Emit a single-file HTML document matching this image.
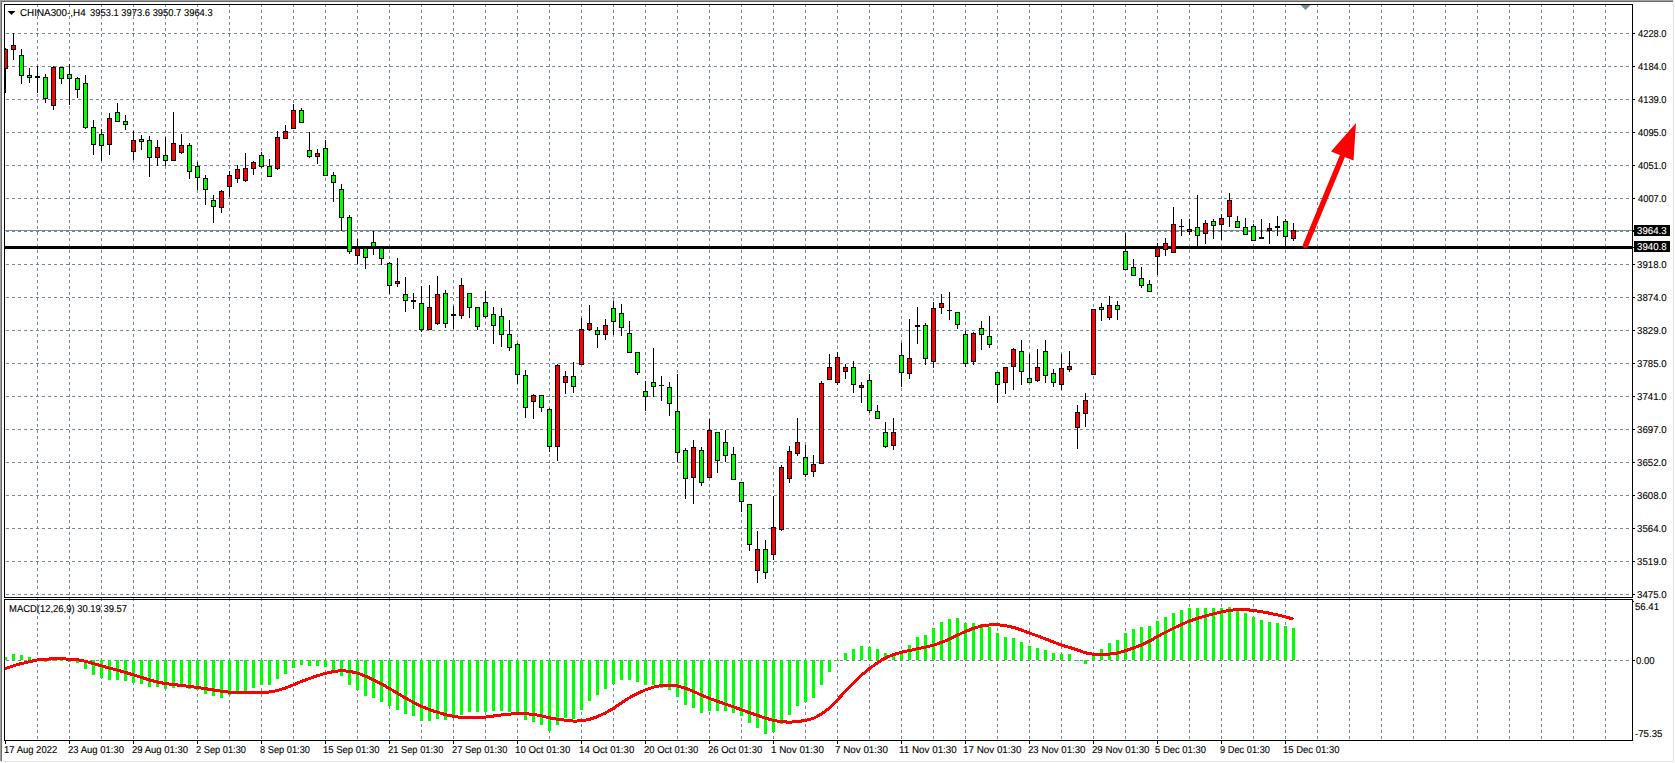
<!DOCTYPE html>
<html><head><meta charset="utf-8"><title>CHINA300-,H4</title>
<style>
html,body{margin:0;padding:0;background:#fff;width:1675px;height:763px;overflow:hidden}
svg{display:block}
text{font-family:"Liberation Sans",sans-serif}
</style></head><body>
<svg width="1675" height="763" viewBox="0 0 1675 763" shape-rendering="crispEdges">
<rect x="0" y="0" width="1675" height="763" fill="#ffffff"/>
<rect x="0" y="0" width="1674" height="1" fill="#a0a0a0"/>
<rect x="0" y="1" width="1673" height="1" fill="#696969"/>
<rect x="0" y="0" width="1" height="761" fill="#a0a0a0"/>
<rect x="1" y="1" width="1" height="760" fill="#696969"/>
<rect x="1673" y="0" width="1" height="762" fill="#e3e3e3"/>
<rect x="0" y="761" width="1674" height="1" fill="#e3e3e3"/>
<defs>
<clipPath id="cm"><rect x="5" y="5" width="1627" height="592"/></clipPath>
<clipPath id="ci"><rect x="5" y="600" width="1627" height="140"/></clipPath>
</defs>
<path d="M37.5 4V740 M69.5 4V740 M101.5 4V740 M133.5 4V740 M165.5 4V740 M197.5 4V740 M229.5 4V740 M261.5 4V740 M293.5 4V740 M325.5 4V740 M357.5 4V740 M389.5 4V740 M421.5 4V740 M453.5 4V740 M485.5 4V740 M517.5 4V740 M549.5 4V740 M581.5 4V740 M613.5 4V740 M645.5 4V740 M677.5 4V740 M709.5 4V740 M741.5 4V740 M773.5 4V740 M805.5 4V740 M837.5 4V740 M869.5 4V740 M901.5 4V740 M933.5 4V740 M965.5 4V740 M997.5 4V740 M1029.5 4V740 M1061.5 4V740 M1093.5 4V740 M1125.5 4V740 M1157.5 4V740 M1189.5 4V740 M1221.5 4V740 M1253.5 4V740 M1285.5 4V740 M1317.5 4V740 M1349.5 4V740 M1381.5 4V740 M1413.5 4V740 M1445.5 4V740 M1477.5 4V740 M1509.5 4V740 M1541.5 4V740 M1573.5 4V740 M1605.5 4V740" stroke="#778899" stroke-width="1" stroke-dasharray="3 3" fill="none"/>
<g clip-path="url(#cm)"><path d="M0 33.5H1632 M0 66.5H1632 M0 99.5H1632 M0 132.5H1632 M0 165.5H1632 M0 198.5H1632 M0 231.5H1632 M0 264.5H1632 M0 297.5H1632 M0 330.5H1632 M0 363.5H1632 M0 396.5H1632 M0 429.5H1632 M0 462.5H1632 M0 495.5H1632 M0 528.5H1632 M0 561.5H1632 M0 594.5H1632" stroke="#778899" stroke-width="1" stroke-dasharray="3 3" fill="none"/></g>
<g clip-path="url(#ci)"><path d="M0 660.5H1632" stroke="#778899" stroke-width="1" stroke-dasharray="3 3" fill="none"/></g>
<g clip-path="url(#cm)">
<rect x="5" y="230" width="1627" height="1" fill="#778899"/>
<rect x="5" y="246" width="1627" height="3" fill="#000"/>
<rect x="5" y="48" width="1" height="45" fill="#000"/>
<rect x="3" y="49" width="5" height="20" fill="#000"/>
<rect x="4" y="50" width="3" height="18" fill="#ff0000"/>
<rect x="13" y="33" width="1" height="27" fill="#000"/>
<rect x="11" y="45" width="5" height="5" fill="#000"/>
<rect x="12" y="46" width="3" height="3" fill="#ff0000"/>
<rect x="21" y="49" width="1" height="35" fill="#000"/>
<rect x="19" y="55" width="5" height="21" fill="#000"/>
<rect x="20" y="56" width="3" height="19" fill="#00ff00"/>
<rect x="29" y="68" width="1" height="15" fill="#000"/>
<rect x="27" y="75" width="5" height="3" fill="#000"/>
<rect x="28" y="76" width="3" height="1" fill="#00ff00"/>
<rect x="37" y="66" width="1" height="27" fill="#000"/>
<rect x="35" y="76" width="5" height="2" fill="#000"/>
<rect x="45" y="74" width="1" height="29" fill="#000"/>
<rect x="43" y="77" width="5" height="22" fill="#000"/>
<rect x="44" y="78" width="3" height="20" fill="#00ff00"/>
<rect x="53" y="66" width="1" height="44" fill="#000"/>
<rect x="51" y="67" width="5" height="39" fill="#000"/>
<rect x="52" y="68" width="3" height="37" fill="#ff0000"/>
<rect x="61" y="67" width="1" height="17" fill="#000"/>
<rect x="59" y="67" width="5" height="12" fill="#000"/>
<rect x="60" y="68" width="3" height="10" fill="#00ff00"/>
<rect x="69" y="64" width="1" height="41" fill="#000"/>
<rect x="67" y="74" width="5" height="5" fill="#000"/>
<rect x="68" y="75" width="3" height="3" fill="#00ff00"/>
<rect x="77" y="77" width="1" height="21" fill="#000"/>
<rect x="75" y="78" width="5" height="12" fill="#000"/>
<rect x="76" y="79" width="3" height="10" fill="#00ff00"/>
<rect x="85" y="75" width="1" height="54" fill="#000"/>
<rect x="83" y="83" width="5" height="45" fill="#000"/>
<rect x="84" y="84" width="3" height="43" fill="#00ff00"/>
<rect x="93" y="120" width="1" height="35" fill="#000"/>
<rect x="91" y="127" width="5" height="18" fill="#000"/>
<rect x="92" y="128" width="3" height="16" fill="#00ff00"/>
<rect x="101" y="129" width="1" height="32" fill="#000"/>
<rect x="99" y="134" width="5" height="12" fill="#000"/>
<rect x="100" y="135" width="3" height="10" fill="#00ff00"/>
<rect x="109" y="113" width="1" height="42" fill="#000"/>
<rect x="107" y="118" width="5" height="27" fill="#000"/>
<rect x="108" y="119" width="3" height="25" fill="#ff0000"/>
<rect x="117" y="103" width="1" height="19" fill="#000"/>
<rect x="115" y="112" width="5" height="10" fill="#000"/>
<rect x="116" y="113" width="3" height="8" fill="#00ff00"/>
<rect x="125" y="115" width="1" height="15" fill="#000"/>
<rect x="123" y="121" width="5" height="4" fill="#000"/>
<rect x="124" y="122" width="3" height="2" fill="#00ff00"/>
<rect x="133" y="131" width="1" height="29" fill="#000"/>
<rect x="131" y="140" width="5" height="12" fill="#000"/>
<rect x="132" y="141" width="3" height="10" fill="#ff0000"/>
<rect x="141" y="135" width="1" height="15" fill="#000"/>
<rect x="139" y="139" width="5" height="3" fill="#000"/>
<rect x="140" y="140" width="3" height="1" fill="#00ff00"/>
<rect x="149" y="136" width="1" height="41" fill="#000"/>
<rect x="147" y="140" width="5" height="18" fill="#000"/>
<rect x="148" y="141" width="3" height="16" fill="#00ff00"/>
<rect x="157" y="140" width="1" height="26" fill="#000"/>
<rect x="155" y="147" width="5" height="11" fill="#000"/>
<rect x="156" y="148" width="3" height="9" fill="#ff0000"/>
<rect x="165" y="137" width="1" height="29" fill="#000"/>
<rect x="163" y="155" width="5" height="6" fill="#000"/>
<rect x="164" y="156" width="3" height="4" fill="#00ff00"/>
<rect x="173" y="112" width="1" height="49" fill="#000"/>
<rect x="171" y="143" width="5" height="18" fill="#000"/>
<rect x="172" y="144" width="3" height="16" fill="#ff0000"/>
<rect x="181" y="134" width="1" height="20" fill="#000"/>
<rect x="179" y="145" width="5" height="8" fill="#000"/>
<rect x="180" y="146" width="3" height="6" fill="#ff0000"/>
<rect x="189" y="143" width="1" height="36" fill="#000"/>
<rect x="187" y="145" width="5" height="27" fill="#000"/>
<rect x="188" y="146" width="3" height="25" fill="#00ff00"/>
<rect x="197" y="162" width="1" height="28" fill="#000"/>
<rect x="195" y="166" width="5" height="12" fill="#000"/>
<rect x="196" y="167" width="3" height="10" fill="#00ff00"/>
<rect x="205" y="175" width="1" height="30" fill="#000"/>
<rect x="203" y="178" width="5" height="12" fill="#000"/>
<rect x="204" y="179" width="3" height="10" fill="#00ff00"/>
<rect x="213" y="195" width="1" height="28" fill="#000"/>
<rect x="211" y="200" width="5" height="7" fill="#000"/>
<rect x="212" y="201" width="3" height="5" fill="#00ff00"/>
<rect x="221" y="190" width="1" height="23" fill="#000"/>
<rect x="219" y="191" width="5" height="17" fill="#000"/>
<rect x="220" y="192" width="3" height="15" fill="#ff0000"/>
<rect x="229" y="171" width="1" height="26" fill="#000"/>
<rect x="227" y="175" width="5" height="12" fill="#000"/>
<rect x="228" y="176" width="3" height="10" fill="#ff0000"/>
<rect x="237" y="165" width="1" height="18" fill="#000"/>
<rect x="235" y="169" width="5" height="10" fill="#000"/>
<rect x="236" y="170" width="3" height="8" fill="#ff0000"/>
<rect x="245" y="153" width="1" height="29" fill="#000"/>
<rect x="243" y="168" width="5" height="13" fill="#000"/>
<rect x="244" y="169" width="3" height="11" fill="#ff0000"/>
<rect x="253" y="161" width="1" height="14" fill="#000"/>
<rect x="251" y="162" width="5" height="7" fill="#000"/>
<rect x="252" y="163" width="3" height="5" fill="#ff0000"/>
<rect x="261" y="152" width="1" height="16" fill="#000"/>
<rect x="259" y="155" width="5" height="12" fill="#000"/>
<rect x="260" y="156" width="3" height="10" fill="#00ff00"/>
<rect x="269" y="159" width="1" height="18" fill="#000"/>
<rect x="267" y="166" width="5" height="11" fill="#000"/>
<rect x="268" y="167" width="3" height="9" fill="#00ff00"/>
<rect x="277" y="131" width="1" height="39" fill="#000"/>
<rect x="275" y="137" width="5" height="32" fill="#000"/>
<rect x="276" y="138" width="3" height="30" fill="#ff0000"/>
<rect x="285" y="125" width="1" height="14" fill="#000"/>
<rect x="283" y="131" width="5" height="8" fill="#000"/>
<rect x="284" y="132" width="3" height="6" fill="#ff0000"/>
<rect x="293" y="104" width="1" height="25" fill="#000"/>
<rect x="291" y="110" width="5" height="19" fill="#000"/>
<rect x="292" y="111" width="3" height="17" fill="#ff0000"/>
<rect x="301" y="108" width="1" height="15" fill="#000"/>
<rect x="299" y="110" width="5" height="13" fill="#000"/>
<rect x="300" y="111" width="3" height="11" fill="#00ff00"/>
<rect x="309" y="132" width="1" height="26" fill="#000"/>
<rect x="307" y="150" width="5" height="7" fill="#000"/>
<rect x="308" y="151" width="3" height="5" fill="#00ff00"/>
<rect x="317" y="149" width="1" height="15" fill="#000"/>
<rect x="315" y="153" width="5" height="4" fill="#000"/>
<rect x="316" y="154" width="3" height="2" fill="#ff0000"/>
<rect x="325" y="140" width="1" height="36" fill="#000"/>
<rect x="323" y="148" width="5" height="28" fill="#000"/>
<rect x="324" y="149" width="3" height="26" fill="#00ff00"/>
<rect x="333" y="172" width="1" height="30" fill="#000"/>
<rect x="331" y="175" width="5" height="8" fill="#000"/>
<rect x="332" y="176" width="3" height="6" fill="#00ff00"/>
<rect x="341" y="184" width="1" height="47" fill="#000"/>
<rect x="339" y="189" width="5" height="29" fill="#000"/>
<rect x="340" y="190" width="3" height="27" fill="#00ff00"/>
<rect x="349" y="215" width="1" height="39" fill="#000"/>
<rect x="347" y="217" width="5" height="35" fill="#000"/>
<rect x="348" y="218" width="3" height="33" fill="#00ff00"/>
<rect x="357" y="239" width="1" height="25" fill="#000"/>
<rect x="355" y="248" width="5" height="8" fill="#000"/>
<rect x="356" y="249" width="3" height="6" fill="#ff0000"/>
<rect x="365" y="246" width="1" height="23" fill="#000"/>
<rect x="363" y="248" width="5" height="10" fill="#000"/>
<rect x="364" y="249" width="3" height="8" fill="#00ff00"/>
<rect x="373" y="231" width="1" height="24" fill="#000"/>
<rect x="371" y="242" width="5" height="5" fill="#000"/>
<rect x="372" y="243" width="3" height="3" fill="#00ff00"/>
<rect x="381" y="247" width="1" height="18" fill="#000"/>
<rect x="379" y="248" width="5" height="11" fill="#000"/>
<rect x="380" y="249" width="3" height="9" fill="#00ff00"/>
<rect x="389" y="262" width="1" height="32" fill="#000"/>
<rect x="387" y="263" width="5" height="23" fill="#000"/>
<rect x="388" y="264" width="3" height="21" fill="#00ff00"/>
<rect x="397" y="258" width="1" height="29" fill="#000"/>
<rect x="395" y="281" width="5" height="3" fill="#000"/>
<rect x="396" y="282" width="3" height="1" fill="#ff0000"/>
<rect x="405" y="277" width="1" height="35" fill="#000"/>
<rect x="403" y="294" width="5" height="7" fill="#000"/>
<rect x="404" y="295" width="3" height="5" fill="#00ff00"/>
<rect x="413" y="293" width="1" height="16" fill="#000"/>
<rect x="411" y="300" width="5" height="2" fill="#000"/>
<rect x="421" y="286" width="1" height="46" fill="#000"/>
<rect x="419" y="303" width="5" height="27" fill="#000"/>
<rect x="420" y="304" width="3" height="25" fill="#00ff00"/>
<rect x="429" y="285" width="1" height="45" fill="#000"/>
<rect x="427" y="307" width="5" height="23" fill="#000"/>
<rect x="428" y="308" width="3" height="21" fill="#ff0000"/>
<rect x="437" y="276" width="1" height="49" fill="#000"/>
<rect x="435" y="294" width="5" height="30" fill="#000"/>
<rect x="436" y="295" width="3" height="28" fill="#ff0000"/>
<rect x="445" y="290" width="1" height="38" fill="#000"/>
<rect x="443" y="293" width="5" height="31" fill="#000"/>
<rect x="444" y="294" width="3" height="29" fill="#00ff00"/>
<rect x="453" y="306" width="1" height="23" fill="#000"/>
<rect x="451" y="314" width="5" height="2" fill="#000"/>
<rect x="461" y="278" width="1" height="41" fill="#000"/>
<rect x="459" y="285" width="5" height="31" fill="#000"/>
<rect x="460" y="286" width="3" height="29" fill="#ff0000"/>
<rect x="469" y="293" width="1" height="25" fill="#000"/>
<rect x="467" y="293" width="5" height="15" fill="#000"/>
<rect x="468" y="294" width="3" height="13" fill="#00ff00"/>
<rect x="477" y="307" width="1" height="23" fill="#000"/>
<rect x="475" y="307" width="5" height="20" fill="#000"/>
<rect x="476" y="308" width="3" height="18" fill="#00ff00"/>
<rect x="485" y="291" width="1" height="27" fill="#000"/>
<rect x="483" y="302" width="5" height="15" fill="#000"/>
<rect x="484" y="303" width="3" height="13" fill="#00ff00"/>
<rect x="493" y="307" width="1" height="37" fill="#000"/>
<rect x="491" y="314" width="5" height="12" fill="#000"/>
<rect x="492" y="315" width="3" height="10" fill="#00ff00"/>
<rect x="501" y="308" width="1" height="39" fill="#000"/>
<rect x="499" y="316" width="5" height="19" fill="#000"/>
<rect x="500" y="317" width="3" height="17" fill="#00ff00"/>
<rect x="509" y="320" width="1" height="31" fill="#000"/>
<rect x="507" y="334" width="5" height="14" fill="#000"/>
<rect x="508" y="335" width="3" height="12" fill="#00ff00"/>
<rect x="517" y="343" width="1" height="41" fill="#000"/>
<rect x="515" y="344" width="5" height="31" fill="#000"/>
<rect x="516" y="345" width="3" height="29" fill="#00ff00"/>
<rect x="525" y="370" width="1" height="48" fill="#000"/>
<rect x="523" y="375" width="5" height="33" fill="#000"/>
<rect x="524" y="376" width="3" height="31" fill="#00ff00"/>
<rect x="533" y="394" width="1" height="25" fill="#000"/>
<rect x="531" y="395" width="5" height="7" fill="#000"/>
<rect x="532" y="396" width="3" height="5" fill="#ff0000"/>
<rect x="541" y="395" width="1" height="17" fill="#000"/>
<rect x="539" y="395" width="5" height="13" fill="#000"/>
<rect x="540" y="396" width="3" height="11" fill="#00ff00"/>
<rect x="549" y="408" width="1" height="44" fill="#000"/>
<rect x="547" y="409" width="5" height="38" fill="#000"/>
<rect x="548" y="410" width="3" height="36" fill="#00ff00"/>
<rect x="557" y="364" width="1" height="97" fill="#000"/>
<rect x="555" y="365" width="5" height="82" fill="#000"/>
<rect x="556" y="366" width="3" height="80" fill="#ff0000"/>
<rect x="565" y="371" width="1" height="23" fill="#000"/>
<rect x="563" y="376" width="5" height="7" fill="#000"/>
<rect x="564" y="377" width="3" height="5" fill="#ff0000"/>
<rect x="573" y="362" width="1" height="31" fill="#000"/>
<rect x="571" y="376" width="5" height="11" fill="#000"/>
<rect x="572" y="377" width="3" height="9" fill="#00ff00"/>
<rect x="581" y="318" width="1" height="47" fill="#000"/>
<rect x="579" y="329" width="5" height="36" fill="#000"/>
<rect x="580" y="330" width="3" height="34" fill="#ff0000"/>
<rect x="589" y="305" width="1" height="26" fill="#000"/>
<rect x="587" y="323" width="5" height="7" fill="#000"/>
<rect x="588" y="324" width="3" height="5" fill="#ff0000"/>
<rect x="597" y="327" width="1" height="21" fill="#000"/>
<rect x="595" y="330" width="5" height="5" fill="#000"/>
<rect x="596" y="331" width="3" height="3" fill="#00ff00"/>
<rect x="605" y="319" width="1" height="21" fill="#000"/>
<rect x="603" y="325" width="5" height="10" fill="#000"/>
<rect x="604" y="326" width="3" height="8" fill="#ff0000"/>
<rect x="613" y="301" width="1" height="34" fill="#000"/>
<rect x="611" y="308" width="5" height="14" fill="#000"/>
<rect x="612" y="309" width="3" height="12" fill="#00ff00"/>
<rect x="621" y="304" width="1" height="32" fill="#000"/>
<rect x="619" y="313" width="5" height="15" fill="#000"/>
<rect x="620" y="314" width="3" height="13" fill="#00ff00"/>
<rect x="629" y="321" width="1" height="32" fill="#000"/>
<rect x="627" y="333" width="5" height="20" fill="#000"/>
<rect x="628" y="334" width="3" height="18" fill="#00ff00"/>
<rect x="637" y="352" width="1" height="23" fill="#000"/>
<rect x="635" y="352" width="5" height="21" fill="#000"/>
<rect x="636" y="353" width="3" height="19" fill="#00ff00"/>
<rect x="645" y="381" width="1" height="30" fill="#000"/>
<rect x="643" y="391" width="5" height="6" fill="#000"/>
<rect x="644" y="392" width="3" height="4" fill="#00ff00"/>
<rect x="653" y="348" width="1" height="49" fill="#000"/>
<rect x="651" y="382" width="5" height="5" fill="#000"/>
<rect x="652" y="383" width="3" height="3" fill="#00ff00"/>
<rect x="661" y="376" width="1" height="25" fill="#000"/>
<rect x="659" y="385" width="5" height="1" fill="#000"/>
<rect x="669" y="382" width="1" height="34" fill="#000"/>
<rect x="667" y="387" width="5" height="17" fill="#000"/>
<rect x="668" y="388" width="3" height="15" fill="#00ff00"/>
<rect x="677" y="374" width="1" height="88" fill="#000"/>
<rect x="675" y="411" width="5" height="42" fill="#000"/>
<rect x="676" y="412" width="3" height="40" fill="#00ff00"/>
<rect x="685" y="448" width="1" height="51" fill="#000"/>
<rect x="683" y="450" width="5" height="29" fill="#000"/>
<rect x="684" y="451" width="3" height="27" fill="#00ff00"/>
<rect x="693" y="440" width="1" height="64" fill="#000"/>
<rect x="691" y="447" width="5" height="31" fill="#000"/>
<rect x="692" y="448" width="3" height="29" fill="#ff0000"/>
<rect x="701" y="447" width="1" height="39" fill="#000"/>
<rect x="699" y="450" width="5" height="33" fill="#000"/>
<rect x="700" y="451" width="3" height="31" fill="#00ff00"/>
<rect x="709" y="419" width="1" height="59" fill="#000"/>
<rect x="707" y="430" width="5" height="48" fill="#000"/>
<rect x="708" y="431" width="3" height="46" fill="#ff0000"/>
<rect x="717" y="432" width="1" height="41" fill="#000"/>
<rect x="715" y="432" width="5" height="29" fill="#000"/>
<rect x="716" y="433" width="3" height="27" fill="#00ff00"/>
<rect x="725" y="430" width="1" height="32" fill="#000"/>
<rect x="723" y="442" width="5" height="14" fill="#000"/>
<rect x="724" y="443" width="3" height="12" fill="#00ff00"/>
<rect x="733" y="447" width="1" height="33" fill="#000"/>
<rect x="731" y="454" width="5" height="26" fill="#000"/>
<rect x="732" y="455" width="3" height="24" fill="#00ff00"/>
<rect x="741" y="482" width="1" height="30" fill="#000"/>
<rect x="739" y="482" width="5" height="20" fill="#000"/>
<rect x="740" y="483" width="3" height="18" fill="#00ff00"/>
<rect x="749" y="504" width="1" height="47" fill="#000"/>
<rect x="747" y="504" width="5" height="41" fill="#000"/>
<rect x="748" y="505" width="3" height="39" fill="#00ff00"/>
<rect x="757" y="531" width="1" height="52" fill="#000"/>
<rect x="755" y="549" width="5" height="22" fill="#000"/>
<rect x="756" y="550" width="3" height="20" fill="#ff0000"/>
<rect x="765" y="540" width="1" height="39" fill="#000"/>
<rect x="763" y="549" width="5" height="24" fill="#000"/>
<rect x="764" y="550" width="3" height="22" fill="#00ff00"/>
<rect x="773" y="496" width="1" height="64" fill="#000"/>
<rect x="771" y="527" width="5" height="28" fill="#000"/>
<rect x="772" y="528" width="3" height="26" fill="#ff0000"/>
<rect x="781" y="465" width="1" height="66" fill="#000"/>
<rect x="779" y="467" width="5" height="63" fill="#000"/>
<rect x="780" y="468" width="3" height="61" fill="#ff0000"/>
<rect x="789" y="446" width="1" height="37" fill="#000"/>
<rect x="787" y="451" width="5" height="28" fill="#000"/>
<rect x="788" y="452" width="3" height="26" fill="#ff0000"/>
<rect x="797" y="418" width="1" height="38" fill="#000"/>
<rect x="795" y="442" width="5" height="12" fill="#000"/>
<rect x="796" y="443" width="3" height="10" fill="#ff0000"/>
<rect x="805" y="445" width="1" height="32" fill="#000"/>
<rect x="803" y="457" width="5" height="18" fill="#000"/>
<rect x="804" y="458" width="3" height="16" fill="#00ff00"/>
<rect x="813" y="455" width="1" height="22" fill="#000"/>
<rect x="811" y="464" width="5" height="8" fill="#000"/>
<rect x="812" y="465" width="3" height="6" fill="#ff0000"/>
<rect x="821" y="381" width="1" height="83" fill="#000"/>
<rect x="819" y="383" width="5" height="81" fill="#000"/>
<rect x="820" y="384" width="3" height="79" fill="#ff0000"/>
<rect x="829" y="354" width="1" height="26" fill="#000"/>
<rect x="827" y="367" width="5" height="13" fill="#000"/>
<rect x="828" y="368" width="3" height="11" fill="#ff0000"/>
<rect x="837" y="352" width="1" height="33" fill="#000"/>
<rect x="835" y="357" width="5" height="26" fill="#000"/>
<rect x="836" y="358" width="3" height="24" fill="#ff0000"/>
<rect x="845" y="364" width="1" height="15" fill="#000"/>
<rect x="843" y="367" width="5" height="5" fill="#000"/>
<rect x="844" y="368" width="3" height="3" fill="#ff0000"/>
<rect x="853" y="361" width="1" height="32" fill="#000"/>
<rect x="851" y="367" width="5" height="18" fill="#000"/>
<rect x="852" y="368" width="3" height="16" fill="#00ff00"/>
<rect x="861" y="382" width="1" height="21" fill="#000"/>
<rect x="859" y="385" width="5" height="3" fill="#000"/>
<rect x="860" y="386" width="3" height="1" fill="#ff0000"/>
<rect x="869" y="374" width="1" height="39" fill="#000"/>
<rect x="867" y="380" width="5" height="31" fill="#000"/>
<rect x="868" y="381" width="3" height="29" fill="#00ff00"/>
<rect x="877" y="405" width="1" height="14" fill="#000"/>
<rect x="875" y="411" width="5" height="8" fill="#000"/>
<rect x="876" y="412" width="3" height="6" fill="#00ff00"/>
<rect x="885" y="422" width="1" height="26" fill="#000"/>
<rect x="883" y="432" width="5" height="15" fill="#000"/>
<rect x="884" y="433" width="3" height="13" fill="#00ff00"/>
<rect x="893" y="418" width="1" height="32" fill="#000"/>
<rect x="891" y="432" width="5" height="14" fill="#000"/>
<rect x="892" y="433" width="3" height="12" fill="#ff0000"/>
<rect x="901" y="343" width="1" height="44" fill="#000"/>
<rect x="899" y="355" width="5" height="18" fill="#000"/>
<rect x="900" y="356" width="3" height="16" fill="#00ff00"/>
<rect x="909" y="319" width="1" height="60" fill="#000"/>
<rect x="907" y="358" width="5" height="16" fill="#000"/>
<rect x="908" y="359" width="3" height="14" fill="#ff0000"/>
<rect x="917" y="307" width="1" height="37" fill="#000"/>
<rect x="915" y="325" width="5" height="2" fill="#000"/>
<rect x="925" y="323" width="1" height="42" fill="#000"/>
<rect x="923" y="325" width="5" height="34" fill="#000"/>
<rect x="924" y="326" width="3" height="32" fill="#00ff00"/>
<rect x="933" y="302" width="1" height="66" fill="#000"/>
<rect x="931" y="308" width="5" height="54" fill="#000"/>
<rect x="932" y="309" width="3" height="52" fill="#ff0000"/>
<rect x="941" y="294" width="1" height="20" fill="#000"/>
<rect x="939" y="303" width="5" height="5" fill="#000"/>
<rect x="940" y="304" width="3" height="3" fill="#ff0000"/>
<rect x="949" y="292" width="1" height="28" fill="#000"/>
<rect x="947" y="310" width="5" height="1" fill="#000"/>
<rect x="957" y="312" width="1" height="17" fill="#000"/>
<rect x="955" y="312" width="5" height="13" fill="#000"/>
<rect x="956" y="313" width="3" height="11" fill="#00ff00"/>
<rect x="965" y="331" width="1" height="36" fill="#000"/>
<rect x="963" y="334" width="5" height="30" fill="#000"/>
<rect x="964" y="335" width="3" height="28" fill="#00ff00"/>
<rect x="973" y="332" width="1" height="33" fill="#000"/>
<rect x="971" y="333" width="5" height="29" fill="#000"/>
<rect x="972" y="334" width="3" height="27" fill="#ff0000"/>
<rect x="981" y="321" width="1" height="29" fill="#000"/>
<rect x="979" y="328" width="5" height="7" fill="#000"/>
<rect x="980" y="329" width="3" height="5" fill="#00ff00"/>
<rect x="989" y="316" width="1" height="32" fill="#000"/>
<rect x="987" y="336" width="5" height="9" fill="#000"/>
<rect x="988" y="337" width="3" height="7" fill="#00ff00"/>
<rect x="997" y="372" width="1" height="31" fill="#000"/>
<rect x="995" y="372" width="5" height="13" fill="#000"/>
<rect x="996" y="373" width="3" height="11" fill="#00ff00"/>
<rect x="1005" y="367" width="1" height="27" fill="#000"/>
<rect x="1003" y="367" width="5" height="16" fill="#000"/>
<rect x="1004" y="368" width="3" height="14" fill="#ff0000"/>
<rect x="1013" y="348" width="1" height="42" fill="#000"/>
<rect x="1011" y="349" width="5" height="18" fill="#000"/>
<rect x="1012" y="350" width="3" height="16" fill="#ff0000"/>
<rect x="1021" y="340" width="1" height="45" fill="#000"/>
<rect x="1019" y="351" width="5" height="21" fill="#000"/>
<rect x="1020" y="352" width="3" height="19" fill="#00ff00"/>
<rect x="1029" y="354" width="1" height="29" fill="#000"/>
<rect x="1027" y="378" width="5" height="5" fill="#000"/>
<rect x="1028" y="379" width="3" height="3" fill="#00ff00"/>
<rect x="1037" y="349" width="1" height="33" fill="#000"/>
<rect x="1035" y="367" width="5" height="14" fill="#000"/>
<rect x="1036" y="368" width="3" height="12" fill="#ff0000"/>
<rect x="1045" y="340" width="1" height="43" fill="#000"/>
<rect x="1043" y="351" width="5" height="25" fill="#000"/>
<rect x="1044" y="352" width="3" height="23" fill="#00ff00"/>
<rect x="1053" y="369" width="1" height="18" fill="#000"/>
<rect x="1051" y="373" width="5" height="10" fill="#000"/>
<rect x="1052" y="374" width="3" height="8" fill="#00ff00"/>
<rect x="1061" y="354" width="1" height="36" fill="#000"/>
<rect x="1059" y="368" width="5" height="17" fill="#000"/>
<rect x="1060" y="369" width="3" height="15" fill="#ff0000"/>
<rect x="1069" y="351" width="1" height="21" fill="#000"/>
<rect x="1067" y="366" width="5" height="4" fill="#000"/>
<rect x="1068" y="367" width="3" height="2" fill="#ff0000"/>
<rect x="1077" y="405" width="1" height="44" fill="#000"/>
<rect x="1075" y="412" width="5" height="16" fill="#000"/>
<rect x="1076" y="413" width="3" height="14" fill="#ff0000"/>
<rect x="1085" y="393" width="1" height="34" fill="#000"/>
<rect x="1083" y="400" width="5" height="14" fill="#000"/>
<rect x="1084" y="401" width="3" height="12" fill="#ff0000"/>
<rect x="1093" y="309" width="1" height="66" fill="#000"/>
<rect x="1091" y="309" width="5" height="66" fill="#000"/>
<rect x="1092" y="310" width="3" height="64" fill="#ff0000"/>
<rect x="1101" y="303" width="1" height="18" fill="#000"/>
<rect x="1099" y="307" width="5" height="3" fill="#000"/>
<rect x="1100" y="308" width="3" height="1" fill="#00ff00"/>
<rect x="1109" y="296" width="1" height="24" fill="#000"/>
<rect x="1107" y="305" width="5" height="13" fill="#000"/>
<rect x="1108" y="306" width="3" height="11" fill="#ff0000"/>
<rect x="1117" y="301" width="1" height="19" fill="#000"/>
<rect x="1115" y="305" width="5" height="5" fill="#000"/>
<rect x="1116" y="306" width="3" height="3" fill="#00ff00"/>
<rect x="1125" y="233" width="1" height="37" fill="#000"/>
<rect x="1123" y="251" width="5" height="19" fill="#000"/>
<rect x="1124" y="252" width="3" height="17" fill="#00ff00"/>
<rect x="1133" y="259" width="1" height="17" fill="#000"/>
<rect x="1131" y="267" width="5" height="9" fill="#000"/>
<rect x="1132" y="268" width="3" height="7" fill="#00ff00"/>
<rect x="1141" y="267" width="1" height="21" fill="#000"/>
<rect x="1139" y="278" width="5" height="8" fill="#000"/>
<rect x="1140" y="279" width="3" height="6" fill="#00ff00"/>
<rect x="1149" y="280" width="1" height="12" fill="#000"/>
<rect x="1147" y="284" width="5" height="8" fill="#000"/>
<rect x="1148" y="285" width="3" height="6" fill="#00ff00"/>
<rect x="1157" y="243" width="1" height="32" fill="#000"/>
<rect x="1155" y="248" width="5" height="9" fill="#000"/>
<rect x="1156" y="249" width="3" height="7" fill="#ff0000"/>
<rect x="1165" y="238" width="1" height="18" fill="#000"/>
<rect x="1163" y="243" width="5" height="7" fill="#000"/>
<rect x="1164" y="244" width="3" height="5" fill="#ff0000"/>
<rect x="1173" y="207" width="1" height="46" fill="#000"/>
<rect x="1171" y="224" width="5" height="29" fill="#000"/>
<rect x="1172" y="225" width="3" height="27" fill="#ff0000"/>
<rect x="1181" y="219" width="1" height="17" fill="#000"/>
<rect x="1179" y="226" width="5" height="1" fill="#000"/>
<rect x="1189" y="219" width="1" height="16" fill="#000"/>
<rect x="1187" y="229" width="5" height="3" fill="#000"/>
<rect x="1188" y="230" width="3" height="1" fill="#ff0000"/>
<rect x="1197" y="195" width="1" height="51" fill="#000"/>
<rect x="1195" y="227" width="5" height="9" fill="#000"/>
<rect x="1196" y="228" width="3" height="7" fill="#00ff00"/>
<rect x="1205" y="220" width="1" height="24" fill="#000"/>
<rect x="1203" y="223" width="5" height="11" fill="#000"/>
<rect x="1204" y="224" width="3" height="9" fill="#ff0000"/>
<rect x="1213" y="219" width="1" height="20" fill="#000"/>
<rect x="1211" y="221" width="5" height="5" fill="#000"/>
<rect x="1212" y="222" width="3" height="3" fill="#00ff00"/>
<rect x="1221" y="214" width="1" height="26" fill="#000"/>
<rect x="1219" y="218" width="5" height="7" fill="#000"/>
<rect x="1220" y="219" width="3" height="5" fill="#ff0000"/>
<rect x="1229" y="193" width="1" height="34" fill="#000"/>
<rect x="1227" y="200" width="5" height="17" fill="#000"/>
<rect x="1228" y="201" width="3" height="15" fill="#ff0000"/>
<rect x="1237" y="216" width="1" height="12" fill="#000"/>
<rect x="1235" y="221" width="5" height="7" fill="#000"/>
<rect x="1236" y="222" width="3" height="5" fill="#00ff00"/>
<rect x="1245" y="218" width="1" height="17" fill="#000"/>
<rect x="1243" y="227" width="5" height="8" fill="#000"/>
<rect x="1244" y="228" width="3" height="6" fill="#00ff00"/>
<rect x="1253" y="224" width="1" height="17" fill="#000"/>
<rect x="1251" y="226" width="5" height="15" fill="#000"/>
<rect x="1252" y="227" width="3" height="13" fill="#00ff00"/>
<rect x="1261" y="219" width="1" height="20" fill="#000"/>
<rect x="1259" y="237" width="5" height="2" fill="#000"/>
<rect x="1269" y="223" width="1" height="21" fill="#000"/>
<rect x="1267" y="228" width="5" height="3" fill="#000"/>
<rect x="1268" y="229" width="3" height="1" fill="#ff0000"/>
<rect x="1277" y="216" width="1" height="20" fill="#000"/>
<rect x="1275" y="226" width="5" height="2" fill="#000"/>
<rect x="1285" y="219" width="1" height="27" fill="#000"/>
<rect x="1283" y="221" width="5" height="16" fill="#000"/>
<rect x="1284" y="222" width="3" height="14" fill="#00ff00"/>
<rect x="1293" y="223" width="1" height="18" fill="#000"/>
<rect x="1291" y="230" width="5" height="9" fill="#000"/>
<rect x="1292" y="231" width="3" height="7" fill="#ff0000"/>
<g shape-rendering="auto">
<line x1="1305.5" y1="245.5" x2="1342" y2="157" stroke="#ff0000" stroke-width="5.5" stroke-linecap="round"/>
<polygon points="1356,123 1331,151.5 1353.5,160.5" fill="#ff0000"/>
</g>
<polygon points="1300.5,5 1310.5,5 1305.5,10" fill="#778899" shape-rendering="auto"/>
</g>
<g clip-path="url(#ci)">
<rect x="4" y="657" width="3" height="3" fill="#00ff00"/>
<rect x="12" y="654" width="3" height="6" fill="#00ff00"/>
<rect x="20" y="655" width="3" height="5" fill="#00ff00"/>
<rect x="28" y="657" width="3" height="3" fill="#00ff00"/>
<rect x="36" y="660" width="3" height="1" fill="#00ff00"/>
<rect x="44" y="660" width="3" height="2" fill="#00ff00"/>
<rect x="52" y="660" width="3" height="1" fill="#00ff00"/>
<rect x="60" y="660" width="3" height="1" fill="#00ff00"/>
<rect x="68" y="660" width="3" height="2" fill="#00ff00"/>
<rect x="76" y="660" width="3" height="3" fill="#00ff00"/>
<rect x="84" y="660" width="3" height="9" fill="#00ff00"/>
<rect x="92" y="660" width="3" height="15" fill="#00ff00"/>
<rect x="100" y="660" width="3" height="18" fill="#00ff00"/>
<rect x="108" y="660" width="3" height="20" fill="#00ff00"/>
<rect x="116" y="660" width="3" height="20" fill="#00ff00"/>
<rect x="124" y="660" width="3" height="21" fill="#00ff00"/>
<rect x="132" y="660" width="3" height="23" fill="#00ff00"/>
<rect x="140" y="660" width="3" height="24" fill="#00ff00"/>
<rect x="148" y="660" width="3" height="27" fill="#00ff00"/>
<rect x="156" y="660" width="3" height="27" fill="#00ff00"/>
<rect x="164" y="660" width="3" height="29" fill="#00ff00"/>
<rect x="172" y="660" width="3" height="28" fill="#00ff00"/>
<rect x="180" y="660" width="3" height="27" fill="#00ff00"/>
<rect x="188" y="660" width="3" height="29" fill="#00ff00"/>
<rect x="196" y="660" width="3" height="30" fill="#00ff00"/>
<rect x="204" y="660" width="3" height="34" fill="#00ff00"/>
<rect x="212" y="660" width="3" height="36" fill="#00ff00"/>
<rect x="220" y="660" width="3" height="38" fill="#00ff00"/>
<rect x="228" y="660" width="3" height="35" fill="#00ff00"/>
<rect x="236" y="660" width="3" height="31" fill="#00ff00"/>
<rect x="244" y="660" width="3" height="31" fill="#00ff00"/>
<rect x="252" y="660" width="3" height="28" fill="#00ff00"/>
<rect x="260" y="660" width="3" height="25" fill="#00ff00"/>
<rect x="268" y="660" width="3" height="25" fill="#00ff00"/>
<rect x="276" y="660" width="3" height="19" fill="#00ff00"/>
<rect x="284" y="660" width="3" height="14" fill="#00ff00"/>
<rect x="292" y="660" width="3" height="8" fill="#00ff00"/>
<rect x="300" y="660" width="3" height="5" fill="#00ff00"/>
<rect x="308" y="660" width="3" height="6" fill="#00ff00"/>
<rect x="316" y="660" width="3" height="6" fill="#00ff00"/>
<rect x="324" y="660" width="3" height="7" fill="#00ff00"/>
<rect x="332" y="660" width="3" height="10" fill="#00ff00"/>
<rect x="340" y="660" width="3" height="16" fill="#00ff00"/>
<rect x="348" y="660" width="3" height="25" fill="#00ff00"/>
<rect x="356" y="660" width="3" height="30" fill="#00ff00"/>
<rect x="364" y="660" width="3" height="36" fill="#00ff00"/>
<rect x="372" y="660" width="3" height="38" fill="#00ff00"/>
<rect x="380" y="660" width="3" height="42" fill="#00ff00"/>
<rect x="388" y="660" width="3" height="46" fill="#00ff00"/>
<rect x="396" y="660" width="3" height="50" fill="#00ff00"/>
<rect x="404" y="660" width="3" height="54" fill="#00ff00"/>
<rect x="412" y="660" width="3" height="56" fill="#00ff00"/>
<rect x="420" y="660" width="3" height="61" fill="#00ff00"/>
<rect x="428" y="660" width="3" height="61" fill="#00ff00"/>
<rect x="436" y="660" width="3" height="59" fill="#00ff00"/>
<rect x="444" y="660" width="3" height="60" fill="#00ff00"/>
<rect x="452" y="660" width="3" height="58" fill="#00ff00"/>
<rect x="460" y="660" width="3" height="55" fill="#00ff00"/>
<rect x="468" y="660" width="3" height="52" fill="#00ff00"/>
<rect x="476" y="660" width="3" height="52" fill="#00ff00"/>
<rect x="484" y="660" width="3" height="52" fill="#00ff00"/>
<rect x="492" y="660" width="3" height="51" fill="#00ff00"/>
<rect x="500" y="660" width="3" height="51" fill="#00ff00"/>
<rect x="508" y="660" width="3" height="52" fill="#00ff00"/>
<rect x="516" y="660" width="3" height="55" fill="#00ff00"/>
<rect x="524" y="660" width="3" height="60" fill="#00ff00"/>
<rect x="532" y="660" width="3" height="62" fill="#00ff00"/>
<rect x="540" y="660" width="3" height="65" fill="#00ff00"/>
<rect x="548" y="660" width="3" height="71" fill="#00ff00"/>
<rect x="556" y="660" width="3" height="65" fill="#00ff00"/>
<rect x="564" y="660" width="3" height="58" fill="#00ff00"/>
<rect x="572" y="660" width="3" height="59" fill="#00ff00"/>
<rect x="580" y="660" width="3" height="50" fill="#00ff00"/>
<rect x="588" y="660" width="3" height="41" fill="#00ff00"/>
<rect x="596" y="660" width="3" height="35" fill="#00ff00"/>
<rect x="604" y="660" width="3" height="29" fill="#00ff00"/>
<rect x="612" y="660" width="3" height="24" fill="#00ff00"/>
<rect x="620" y="660" width="3" height="20" fill="#00ff00"/>
<rect x="628" y="660" width="3" height="20" fill="#00ff00"/>
<rect x="636" y="660" width="3" height="22" fill="#00ff00"/>
<rect x="644" y="660" width="3" height="25" fill="#00ff00"/>
<rect x="652" y="660" width="3" height="25" fill="#00ff00"/>
<rect x="660" y="660" width="3" height="28" fill="#00ff00"/>
<rect x="668" y="660" width="3" height="30" fill="#00ff00"/>
<rect x="676" y="660" width="3" height="37" fill="#00ff00"/>
<rect x="684" y="660" width="3" height="45" fill="#00ff00"/>
<rect x="692" y="660" width="3" height="48" fill="#00ff00"/>
<rect x="700" y="660" width="3" height="53" fill="#00ff00"/>
<rect x="708" y="660" width="3" height="51" fill="#00ff00"/>
<rect x="716" y="660" width="3" height="51" fill="#00ff00"/>
<rect x="724" y="660" width="3" height="51" fill="#00ff00"/>
<rect x="732" y="660" width="3" height="53" fill="#00ff00"/>
<rect x="740" y="660" width="3" height="56" fill="#00ff00"/>
<rect x="748" y="660" width="3" height="63" fill="#00ff00"/>
<rect x="756" y="660" width="3" height="68" fill="#00ff00"/>
<rect x="764" y="660" width="3" height="74" fill="#00ff00"/>
<rect x="772" y="660" width="3" height="72" fill="#00ff00"/>
<rect x="780" y="660" width="3" height="64" fill="#00ff00"/>
<rect x="788" y="660" width="3" height="55" fill="#00ff00"/>
<rect x="796" y="660" width="3" height="46" fill="#00ff00"/>
<rect x="804" y="660" width="3" height="42" fill="#00ff00"/>
<rect x="812" y="660" width="3" height="38" fill="#00ff00"/>
<rect x="820" y="660" width="3" height="25" fill="#00ff00"/>
<rect x="828" y="660" width="3" height="12" fill="#00ff00"/>
<rect x="836" y="660" width="3" height="1" fill="#00ff00"/>
<rect x="844" y="653" width="3" height="7" fill="#00ff00"/>
<rect x="852" y="649" width="3" height="11" fill="#00ff00"/>
<rect x="860" y="646" width="3" height="14" fill="#00ff00"/>
<rect x="868" y="647" width="3" height="13" fill="#00ff00"/>
<rect x="876" y="649" width="3" height="11" fill="#00ff00"/>
<rect x="884" y="653" width="3" height="7" fill="#00ff00"/>
<rect x="892" y="656" width="3" height="4" fill="#00ff00"/>
<rect x="900" y="651" width="3" height="9" fill="#00ff00"/>
<rect x="908" y="645" width="3" height="15" fill="#00ff00"/>
<rect x="916" y="637" width="3" height="23" fill="#00ff00"/>
<rect x="924" y="635" width="3" height="25" fill="#00ff00"/>
<rect x="932" y="628" width="3" height="32" fill="#00ff00"/>
<rect x="940" y="622" width="3" height="38" fill="#00ff00"/>
<rect x="948" y="619" width="3" height="41" fill="#00ff00"/>
<rect x="956" y="618" width="3" height="42" fill="#00ff00"/>
<rect x="964" y="623" width="3" height="37" fill="#00ff00"/>
<rect x="972" y="623" width="3" height="37" fill="#00ff00"/>
<rect x="980" y="624" width="3" height="36" fill="#00ff00"/>
<rect x="988" y="627" width="3" height="33" fill="#00ff00"/>
<rect x="996" y="633" width="3" height="27" fill="#00ff00"/>
<rect x="1004" y="637" width="3" height="23" fill="#00ff00"/>
<rect x="1012" y="638" width="3" height="22" fill="#00ff00"/>
<rect x="1020" y="642" width="3" height="18" fill="#00ff00"/>
<rect x="1028" y="646" width="3" height="14" fill="#00ff00"/>
<rect x="1036" y="648" width="3" height="12" fill="#00ff00"/>
<rect x="1044" y="650" width="3" height="10" fill="#00ff00"/>
<rect x="1052" y="653" width="3" height="7" fill="#00ff00"/>
<rect x="1060" y="654" width="3" height="6" fill="#00ff00"/>
<rect x="1068" y="654" width="3" height="6" fill="#00ff00"/>
<rect x="1076" y="660" width="3" height="1" fill="#00ff00"/>
<rect x="1084" y="660" width="3" height="4" fill="#00ff00"/>
<rect x="1092" y="655" width="3" height="5" fill="#00ff00"/>
<rect x="1100" y="649" width="3" height="11" fill="#00ff00"/>
<rect x="1108" y="643" width="3" height="17" fill="#00ff00"/>
<rect x="1116" y="640" width="3" height="20" fill="#00ff00"/>
<rect x="1124" y="633" width="3" height="27" fill="#00ff00"/>
<rect x="1132" y="629" width="3" height="31" fill="#00ff00"/>
<rect x="1140" y="627" width="3" height="33" fill="#00ff00"/>
<rect x="1148" y="626" width="3" height="34" fill="#00ff00"/>
<rect x="1156" y="621" width="3" height="39" fill="#00ff00"/>
<rect x="1164" y="617" width="3" height="43" fill="#00ff00"/>
<rect x="1172" y="613" width="3" height="47" fill="#00ff00"/>
<rect x="1180" y="610" width="3" height="50" fill="#00ff00"/>
<rect x="1188" y="608" width="3" height="52" fill="#00ff00"/>
<rect x="1196" y="608" width="3" height="52" fill="#00ff00"/>
<rect x="1204" y="608" width="3" height="52" fill="#00ff00"/>
<rect x="1212" y="608" width="3" height="52" fill="#00ff00"/>
<rect x="1220" y="608" width="3" height="52" fill="#00ff00"/>
<rect x="1228" y="607" width="3" height="53" fill="#00ff00"/>
<rect x="1236" y="610" width="3" height="50" fill="#00ff00"/>
<rect x="1244" y="613" width="3" height="47" fill="#00ff00"/>
<rect x="1252" y="617" width="3" height="43" fill="#00ff00"/>
<rect x="1260" y="620" width="3" height="40" fill="#00ff00"/>
<rect x="1268" y="622" width="3" height="38" fill="#00ff00"/>
<rect x="1276" y="623" width="3" height="37" fill="#00ff00"/>
<rect x="1284" y="626" width="3" height="34" fill="#00ff00"/>
<rect x="1292" y="628" width="3" height="32" fill="#00ff00"/>
<polyline points="0,669.5 5.5,668.5 13.5,665.8 21.5,663.5 29.5,661.7 37.5,659.9 45.5,659.1 53.5,658.9 61.5,658.9 69.5,659.1 77.5,659.7 85.5,661.3 93.5,663.5 101.5,665.9 109.5,668.1 117.5,670.2 125.5,672.4 133.5,674.9 141.5,677.4 149.5,680.0 157.5,682.0 165.5,683.6 173.5,684.6 181.5,685.4 189.5,686.4 197.5,687.5 205.5,688.7 213.5,690.0 221.5,691.3 229.5,692.2 237.5,692.5 245.5,692.8 253.5,693.0 261.5,692.6 269.5,692.0 277.5,690.5 285.5,688.0 293.5,684.8 301.5,681.4 309.5,678.5 317.5,675.7 325.5,673.3 333.5,671.6 341.5,670.6 349.5,671.3 357.5,673.1 365.5,676.2 373.5,679.9 381.5,683.9 389.5,688.5 397.5,693.2 405.5,698.1 413.5,702.4 421.5,706.4 429.5,709.7 437.5,712.2 445.5,714.6 453.5,716.4 461.5,717.4 469.5,717.7 477.5,717.5 485.5,717.1 493.5,716.0 501.5,714.9 509.5,714.1 517.5,713.6 525.5,713.7 533.5,714.4 541.5,715.8 549.5,717.8 557.5,719.3 565.5,720.2 573.5,721.1 581.5,720.9 589.5,719.3 597.5,716.6 605.5,712.9 613.5,708.4 621.5,702.7 629.5,697.7 637.5,693.6 645.5,689.8 653.5,687.1 661.5,685.6 669.5,685.1 677.5,686.0 685.5,688.3 693.5,691.4 701.5,695.1 709.5,698.4 717.5,701.3 725.5,704.1 733.5,706.9 741.5,709.8 749.5,712.7 757.5,715.3 765.5,718.2 773.5,720.4 781.5,721.7 789.5,722.2 797.5,721.6 805.5,720.4 813.5,718.3 821.5,714.1 829.5,707.9 837.5,699.8 845.5,691.0 853.5,682.7 861.5,675.1 869.5,668.6 877.5,662.7 885.5,657.8 893.5,654.6 901.5,652.2 909.5,650.5 917.5,648.7 925.5,647.2 933.5,645.2 941.5,642.4 949.5,639.1 957.5,635.1 965.5,631.5 973.5,628.3 981.5,626.0 989.5,624.9 997.5,624.7 1005.5,625.7 1013.5,627.4 1021.5,630.0 1029.5,633.1 1037.5,635.9 1045.5,638.9 1053.5,642.1 1061.5,645.1 1069.5,647.4 1077.5,650.0 1085.5,652.8 1093.5,654.3 1101.5,654.6 1109.5,654.1 1117.5,653.0 1125.5,650.7 1133.5,648.0 1141.5,644.9 1149.5,641.2 1157.5,636.4 1165.5,632.2 1173.5,628.2 1181.5,624.5 1189.5,621.0 1197.5,618.3 1205.5,616.0 1213.5,613.9 1221.5,611.9 1229.5,610.3 1237.5,609.6 1245.5,609.6 1253.5,610.4 1261.5,611.7 1269.5,613.2 1277.5,614.9 1285.5,616.9 1293.5,619.1" fill="none" stroke="#ff0000" stroke-width="3" stroke-linejoin="round"/>
</g>
<rect x="4" y="4" width="1629" height="1" fill="#000"/>
<rect x="4" y="597" width="1629" height="1" fill="#000"/>
<rect x="4" y="4" width="1" height="594" fill="#000"/>
<rect x="1632" y="4" width="1" height="594" fill="#000"/>
<rect x="4" y="599" width="1629" height="1" fill="#000"/>
<rect x="4" y="740" width="1629" height="1" fill="#000"/>
<rect x="4" y="599" width="1" height="142" fill="#000"/>
<rect x="1632" y="599" width="1" height="142" fill="#000"/>
<rect x="1633" y="33" width="2" height="1" fill="#000"/>
<text transform="translate(1638.00,37) scale(0.9333,1)" x="0" y="0" fill="#000" font-family='"Liberation Sans", sans-serif' font-size="10" text-rendering="geometricPrecision" stroke="#000" stroke-width="0.12">4228.0</text>
<rect x="1633" y="66" width="2" height="1" fill="#000"/>
<text transform="translate(1638.00,70) scale(0.9333,1)" x="0" y="0" fill="#000" font-family='"Liberation Sans", sans-serif' font-size="10" text-rendering="geometricPrecision" stroke="#000" stroke-width="0.12">4184.0</text>
<rect x="1633" y="99" width="2" height="1" fill="#000"/>
<text transform="translate(1638.00,103) scale(0.9333,1)" x="0" y="0" fill="#000" font-family='"Liberation Sans", sans-serif' font-size="10" text-rendering="geometricPrecision" stroke="#000" stroke-width="0.12">4139.0</text>
<rect x="1633" y="132" width="2" height="1" fill="#000"/>
<text transform="translate(1638.00,136) scale(0.9333,1)" x="0" y="0" fill="#000" font-family='"Liberation Sans", sans-serif' font-size="10" text-rendering="geometricPrecision" stroke="#000" stroke-width="0.12">4095.0</text>
<rect x="1633" y="165" width="2" height="1" fill="#000"/>
<text transform="translate(1638.00,169) scale(0.9333,1)" x="0" y="0" fill="#000" font-family='"Liberation Sans", sans-serif' font-size="10" text-rendering="geometricPrecision" stroke="#000" stroke-width="0.12">4051.0</text>
<rect x="1633" y="198" width="2" height="1" fill="#000"/>
<text transform="translate(1638.00,202) scale(0.9333,1)" x="0" y="0" fill="#000" font-family='"Liberation Sans", sans-serif' font-size="10" text-rendering="geometricPrecision" stroke="#000" stroke-width="0.12">4007.0</text>
<rect x="1633" y="231" width="2" height="1" fill="#000"/>
<rect x="1633" y="264" width="2" height="1" fill="#000"/>
<text transform="translate(1637.03,268) scale(0.9655,1)" x="0" y="0" fill="#000" font-family='"Liberation Sans", sans-serif' font-size="10" text-rendering="geometricPrecision" stroke="#000" stroke-width="0.12">3918.0</text>
<rect x="1633" y="297" width="2" height="1" fill="#000"/>
<text transform="translate(1637.03,301) scale(0.9655,1)" x="0" y="0" fill="#000" font-family='"Liberation Sans", sans-serif' font-size="10" text-rendering="geometricPrecision" stroke="#000" stroke-width="0.12">3874.0</text>
<rect x="1633" y="330" width="2" height="1" fill="#000"/>
<text transform="translate(1637.03,334) scale(0.9655,1)" x="0" y="0" fill="#000" font-family='"Liberation Sans", sans-serif' font-size="10" text-rendering="geometricPrecision" stroke="#000" stroke-width="0.12">3829.0</text>
<rect x="1633" y="363" width="2" height="1" fill="#000"/>
<text transform="translate(1637.03,367) scale(0.9655,1)" x="0" y="0" fill="#000" font-family='"Liberation Sans", sans-serif' font-size="10" text-rendering="geometricPrecision" stroke="#000" stroke-width="0.12">3785.0</text>
<rect x="1633" y="396" width="2" height="1" fill="#000"/>
<text transform="translate(1637.03,400) scale(0.9655,1)" x="0" y="0" fill="#000" font-family='"Liberation Sans", sans-serif' font-size="10" text-rendering="geometricPrecision" stroke="#000" stroke-width="0.12">3741.0</text>
<rect x="1633" y="429" width="2" height="1" fill="#000"/>
<text transform="translate(1637.03,433) scale(0.9655,1)" x="0" y="0" fill="#000" font-family='"Liberation Sans", sans-serif' font-size="10" text-rendering="geometricPrecision" stroke="#000" stroke-width="0.12">3697.0</text>
<rect x="1633" y="462" width="2" height="1" fill="#000"/>
<text transform="translate(1637.03,466) scale(0.9655,1)" x="0" y="0" fill="#000" font-family='"Liberation Sans", sans-serif' font-size="10" text-rendering="geometricPrecision" stroke="#000" stroke-width="0.12">3652.0</text>
<rect x="1633" y="495" width="2" height="1" fill="#000"/>
<text transform="translate(1637.03,499) scale(0.9655,1)" x="0" y="0" fill="#000" font-family='"Liberation Sans", sans-serif' font-size="10" text-rendering="geometricPrecision" stroke="#000" stroke-width="0.12">3608.0</text>
<rect x="1633" y="528" width="2" height="1" fill="#000"/>
<text transform="translate(1637.03,532) scale(0.9655,1)" x="0" y="0" fill="#000" font-family='"Liberation Sans", sans-serif' font-size="10" text-rendering="geometricPrecision" stroke="#000" stroke-width="0.12">3564.0</text>
<rect x="1633" y="561" width="2" height="1" fill="#000"/>
<text transform="translate(1637.03,565) scale(0.9655,1)" x="0" y="0" fill="#000" font-family='"Liberation Sans", sans-serif' font-size="10" text-rendering="geometricPrecision" stroke="#000" stroke-width="0.12">3519.0</text>
<rect x="1633" y="594" width="2" height="1" fill="#000"/>
<text transform="translate(1637.03,598) scale(0.9655,1)" x="0" y="0" fill="#000" font-family='"Liberation Sans", sans-serif' font-size="10" text-rendering="geometricPrecision" stroke="#000" stroke-width="0.12">3475.0</text>
<rect x="1634" y="225" width="36" height="11" fill="#000"/>
<text transform="translate(1637.03,234) scale(0.9655,1)" x="0" y="0" fill="#fff" font-family='"Liberation Sans", sans-serif' font-size="10" text-rendering="geometricPrecision" stroke="#fff" stroke-width="0.12">3964.3</text>
<rect x="1634" y="241" width="36" height="11" fill="#000"/>
<text transform="translate(1637.03,250) scale(0.9655,1)" x="0" y="0" fill="#fff" font-family='"Liberation Sans", sans-serif' font-size="10" text-rendering="geometricPrecision" stroke="#fff" stroke-width="0.12">3940.8</text>
<rect x="1633" y="230" width="1" height="1" fill="#000"/>
<rect x="1633" y="247" width="1" height="1" fill="#000"/>
<text transform="translate(1635.04,610) scale(0.9583,1)" x="0" y="0" fill="#000" font-family='"Liberation Sans", sans-serif' font-size="10" text-rendering="geometricPrecision" stroke="#000" stroke-width="0.12">56.41</text>
<text transform="translate(1636.00,664) scale(0.9474,1)" x="0" y="0" fill="#000" font-family='"Liberation Sans", sans-serif' font-size="10" text-rendering="geometricPrecision" stroke="#000" stroke-width="0.12">0.00</text>
<text transform="translate(1635.04,737) scale(0.9630,1)" x="0" y="0" fill="#000" font-family='"Liberation Sans", sans-serif' font-size="10" text-rendering="geometricPrecision" stroke="#000" stroke-width="0.12">-75.35</text>
<rect x="1633" y="601" width="1" height="1" fill="#000"/>
<rect x="1633" y="660" width="2" height="1" fill="#000"/>
<polygon points="7.5,11 15.5,11 11.5,15" fill="#000" shape-rendering="auto"/>
<text transform="translate(20.00,16) scale(0.9848,1)" x="0" y="0" fill="#000" font-family='"Liberation Sans", sans-serif' font-size="10" text-rendering="geometricPrecision" stroke="#000" stroke-width="0.12">CHINA300-,H4</text>
<text transform="translate(90.06,16) scale(0.9380,1)" x="0" y="0" fill="#000" font-family='"Liberation Sans", sans-serif' font-size="10" text-rendering="geometricPrecision" stroke="#000" stroke-width="0.12">3953.1 3973.6 3950.7 3964.3</text>
<text transform="translate(9.06,612) scale(0.9435,1)" x="0" y="0" fill="#000" font-family='"Liberation Sans", sans-serif' font-size="10" text-rendering="geometricPrecision" stroke="#000" stroke-width="0.12">MACD(12,26,9) 30.19 39.57</text>
<rect x="5" y="741" width="1" height="3" fill="#000"/>
<text transform="translate(4.05,753) scale(0.9455,1)" x="0" y="0" fill="#000" font-family='"Liberation Sans", sans-serif' font-size="10" text-rendering="geometricPrecision" stroke="#000" stroke-width="0.12">17 Aug 2022</text>
<rect x="69" y="741" width="1" height="3" fill="#000"/>
<text transform="translate(68.00,753) scale(0.9492,1)" x="0" y="0" fill="#000" font-family='"Liberation Sans", sans-serif' font-size="10" text-rendering="geometricPrecision" stroke="#000" stroke-width="0.12">23 Aug 01:30</text>
<rect x="133" y="741" width="1" height="3" fill="#000"/>
<text transform="translate(132.00,753) scale(0.9492,1)" x="0" y="0" fill="#000" font-family='"Liberation Sans", sans-serif' font-size="10" text-rendering="geometricPrecision" stroke="#000" stroke-width="0.12">29 Aug 01:30</text>
<rect x="197" y="741" width="1" height="3" fill="#000"/>
<text transform="translate(196.00,753) scale(0.9259,1)" x="0" y="0" fill="#000" font-family='"Liberation Sans", sans-serif' font-size="10" text-rendering="geometricPrecision" stroke="#000" stroke-width="0.12">2 Sep 01:30</text>
<rect x="261" y="741" width="1" height="3" fill="#000"/>
<text transform="translate(260.00,753) scale(0.9259,1)" x="0" y="0" fill="#000" font-family='"Liberation Sans", sans-serif' font-size="10" text-rendering="geometricPrecision" stroke="#000" stroke-width="0.12">8 Sep 01:30</text>
<rect x="325" y="741" width="1" height="3" fill="#000"/>
<text transform="translate(323.05,753) scale(0.9483,1)" x="0" y="0" fill="#000" font-family='"Liberation Sans", sans-serif' font-size="10" text-rendering="geometricPrecision" stroke="#000" stroke-width="0.12">15 Sep 01:30</text>
<rect x="389" y="741" width="1" height="3" fill="#000"/>
<text transform="translate(388.00,753) scale(0.9322,1)" x="0" y="0" fill="#000" font-family='"Liberation Sans", sans-serif' font-size="10" text-rendering="geometricPrecision" stroke="#000" stroke-width="0.12">21 Sep 01:30</text>
<rect x="453" y="741" width="1" height="3" fill="#000"/>
<text transform="translate(452.00,753) scale(0.9322,1)" x="0" y="0" fill="#000" font-family='"Liberation Sans", sans-serif' font-size="10" text-rendering="geometricPrecision" stroke="#000" stroke-width="0.12">27 Sep 01:30</text>
<rect x="517" y="741" width="1" height="3" fill="#000"/>
<text transform="translate(515.04,753) scale(0.9643,1)" x="0" y="0" fill="#000" font-family='"Liberation Sans", sans-serif' font-size="10" text-rendering="geometricPrecision" stroke="#000" stroke-width="0.12">10 Oct 01:30</text>
<rect x="581" y="741" width="1" height="3" fill="#000"/>
<text transform="translate(579.04,753) scale(0.9643,1)" x="0" y="0" fill="#000" font-family='"Liberation Sans", sans-serif' font-size="10" text-rendering="geometricPrecision" stroke="#000" stroke-width="0.12">14 Oct 01:30</text>
<rect x="645" y="741" width="1" height="3" fill="#000"/>
<text transform="translate(644.00,753) scale(0.9474,1)" x="0" y="0" fill="#000" font-family='"Liberation Sans", sans-serif' font-size="10" text-rendering="geometricPrecision" stroke="#000" stroke-width="0.12">20 Oct 01:30</text>
<rect x="709" y="741" width="1" height="3" fill="#000"/>
<text transform="translate(708.00,753) scale(0.9474,1)" x="0" y="0" fill="#000" font-family='"Liberation Sans", sans-serif' font-size="10" text-rendering="geometricPrecision" stroke="#000" stroke-width="0.12">26 Oct 01:30</text>
<rect x="773" y="741" width="1" height="3" fill="#000"/>
<text transform="translate(771.02,753) scale(0.9811,1)" x="0" y="0" fill="#000" font-family='"Liberation Sans", sans-serif' font-size="10" text-rendering="geometricPrecision" stroke="#000" stroke-width="0.12">1 Nov 01:30</text>
<rect x="837" y="741" width="1" height="3" fill="#000"/>
<text transform="translate(835.02,753) scale(0.9811,1)" x="0" y="0" fill="#000" font-family='"Liberation Sans", sans-serif' font-size="10" text-rendering="geometricPrecision" stroke="#000" stroke-width="0.12">7 Nov 01:30</text>
<rect x="901" y="741" width="1" height="3" fill="#000"/>
<text transform="translate(899.02,753) scale(0.9828,1)" x="0" y="0" fill="#000" font-family='"Liberation Sans", sans-serif' font-size="10" text-rendering="geometricPrecision" stroke="#000" stroke-width="0.12">11 Nov 01:30</text>
<rect x="965" y="741" width="1" height="3" fill="#000"/>
<text transform="translate(963.02,753) scale(0.9828,1)" x="0" y="0" fill="#000" font-family='"Liberation Sans", sans-serif' font-size="10" text-rendering="geometricPrecision" stroke="#000" stroke-width="0.12">17 Nov 01:30</text>
<rect x="1029" y="741" width="1" height="3" fill="#000"/>
<text transform="translate(1028.00,753) scale(0.9661,1)" x="0" y="0" fill="#000" font-family='"Liberation Sans", sans-serif' font-size="10" text-rendering="geometricPrecision" stroke="#000" stroke-width="0.12">23 Nov 01:30</text>
<rect x="1093" y="741" width="1" height="3" fill="#000"/>
<text transform="translate(1092.00,753) scale(0.9661,1)" x="0" y="0" fill="#000" font-family='"Liberation Sans", sans-serif' font-size="10" text-rendering="geometricPrecision" stroke="#000" stroke-width="0.12">29 Nov 01:30</text>
<rect x="1157" y="741" width="1" height="3" fill="#000"/>
<text transform="translate(1155.06,753) scale(0.9434,1)" x="0" y="0" fill="#000" font-family='"Liberation Sans", sans-serif' font-size="10" text-rendering="geometricPrecision" stroke="#000" stroke-width="0.12">5 Dec 01:30</text>
<rect x="1221" y="741" width="1" height="3" fill="#000"/>
<text transform="translate(1220.00,753) scale(0.9259,1)" x="0" y="0" fill="#000" font-family='"Liberation Sans", sans-serif' font-size="10" text-rendering="geometricPrecision" stroke="#000" stroke-width="0.12">9 Dec 01:30</text>
<rect x="1285" y="741" width="1" height="3" fill="#000"/>
<text transform="translate(1283.05,753) scale(0.9483,1)" x="0" y="0" fill="#000" font-family='"Liberation Sans", sans-serif' font-size="10" text-rendering="geometricPrecision" stroke="#000" stroke-width="0.12">15 Dec 01:30</text>
</svg>
</body></html>
